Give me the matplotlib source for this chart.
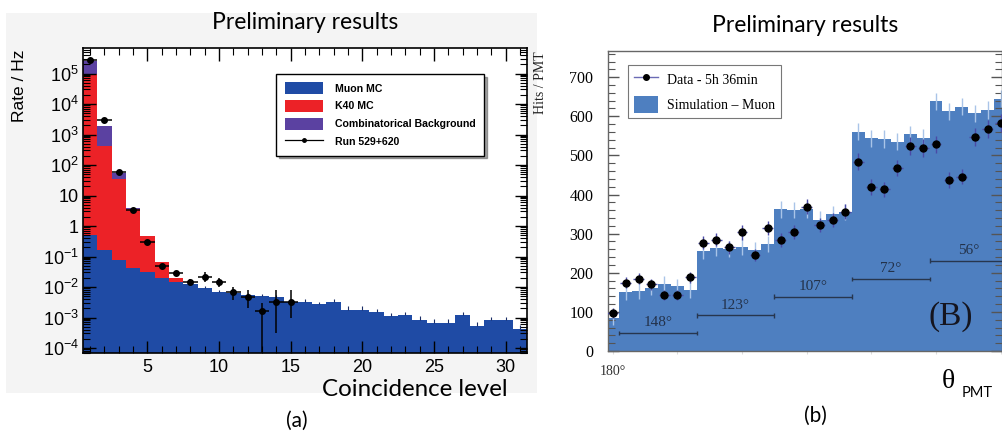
import numpy as np
import matplotlib
matplotlib.use("Agg")
import matplotlib.pyplot as plt
from matplotlib.patches import Patch, Rectangle
from matplotlib.lines import Line2D
from matplotlib.ticker import FixedLocator, FuncFormatter, LogLocator, NullFormatter, MultipleLocator

plt.rcParams['font.family'] = ['Liberation Sans', 'DejaVu Sans']
plt.rcParams['mathtext.fontset'] = 'custom'
plt.rcParams['mathtext.rm'] = 'Liberation Sans'
plt.rcParams['mathtext.it'] = 'Liberation Sans:italic'

# ---------------- Panel (a) data ----------------
coinc_levels = list(range(1, 32))
muon_mc = [0.5, 0.16, 0.078, 0.042, 0.032, 0.020, 0.0145, 0.0126, 0.0093, 0.0070,
           0.0063, 0.0055, 0.0050, 0.0046, 0.0033, 0.0033, 0.0027, 0.0032, 0.0018, 0.0018,
           0.00155, 0.0011, 0.0012, 0.00083, 0.00068, 0.00068, 0.0012, 0.00054, 0.00083, 0.00083,
           0.00041]
muon_mc_err = [0.02, 0.01, 0.005, 0.003, 0.003, 0.002, 0.0015, 0.0015, 0.0012, 0.001,
               0.001, 0.0009, 0.0009, 0.0009, 0.0007, 0.0007, 0.0006, 0.0007, 0.0005, 0.0005,
               0.0004, 0.0003, 0.0003, 0.00025, 0.0002, 0.0002, 0.0003, 0.00018, 0.00022, 0.00022,
               0.00015]
k40_mc = [1.0e5, 420, 35, 3.5, 0.44, 0.046, 0.0055, 0, 0, 0,
          0, 0, 0, 0, 0, 0, 0, 0, 0, 0,
          0, 0, 0, 0, 0, 0, 0, 0, 0, 0, 0]
comb_bkg = [1.6e5, 1480, 20, 0.25, 0, 0, 0, 0, 0, 0,
            0, 0, 0, 0, 0, 0, 0, 0, 0, 0,
            0, 0, 0, 0, 0, 0, 0, 0, 0, 0, 0]
run_levels = list(range(1, 16))
run_rate = [2.7e5, 3000, 59, 3.35, 0.29, 0.050, 0.028, 0.0148, 0.022, 0.0148,
            0.0067, 0.0048, 0.00165, 0.0033, 0.0033]
run_err_up = [2e4, 300, 5, 0.3, 0.02, 0.004, 0.003, 0.003, 0.008, 0.005,
              0.0035, 0.0031, 0.00125, 0.0046, 0.0046]
run_err_dn = [2e4, 300, 5, 0.3, 0.02, 0.004, 0.003, 0.0028, 0.007, 0.0045,
              0.003, 0.0028, 0.00164, 0.003, 0.00237]
legend_a = ['Muon MC', 'K40 MC', 'Combinatorical Background', 'Run 529+620']

# ---------------- Panel (b) data ----------------
pmt_bins = list(range(31))
sim_muon = [84, 150, 154, 162, 171, 165, 156, 256, 263, 261,
            266, 259, 274, 362, 360, 362, 336, 350, 356, 561,
            544, 542, 535, 554, 545, 638, 613, 625, 608, 616, 645]
sim_err = [18, 20, 20, 20, 20, 20, 20, 20, 20, 20,
           20, 20, 20, 21, 21, 21, 21, 21, 21, 22,
           22, 22, 22, 22, 22, 22, 22, 22, 22, 22, 22]
data_hits = [97, 175, 185, 171, 144, 144, 188, 277, 285, 265,
             303, 246, 314, 284, 304, 369, 323, 336, 356, 484,
             420, 413, 468, 524, 519, 528, 438, 446, 547, 568, 584]
data_err = [12, 14, 14, 14, 13, 13, 14, 17, 17, 16,
            18, 16, 18, 17, 18, 19, 18, 18, 19, 21,
            20, 20, 21, 22, 22, 22, 20, 20, 22, 23, 23]
ring_labels = ['148°', '123°', '107°', '72°', '56°']
ring_start = [0.5, 6.5, 12.5, 18.5, 24.5]
ring_end = [6.5, 12.5, 18.5, 24.5, 30.5]
ring_y = [46, 91, 139, 184, 231]
legend_b = ['Data - 5h 36min', 'Simulation – Muon']

# ---------------- figure ----------------
W, H = 1003, 433
fig = plt.figure(figsize=(W / 100, H / 100), dpi=100)


def fx(px):
    return px / W


def fy(py):
    return 1 - py / H


# ROOT canvas background
fig.patches.append(Rectangle((fx(6), fy(393)), (537 - 6) / W, (393 - 13) / H,
                             transform=fig.transFigure, facecolor='#f4f4f4',
                             edgecolor='none', zorder=-5))

c_blue = '#1f4ba5'
c_red = '#ec2227'
c_purple = '#5b41a1'

ax1 = fig.add_axes([fx(83), fy(353), (527 - 83) / W, (353 - 48) / H])
ax1.set_zorder(2)
ax1.set_facecolor('white')
x = np.array(coinc_levels, dtype=float)
muon = np.array(muon_mc)
k40 = np.array(k40_mc, dtype=float)
comb = np.array(comb_bkg, dtype=float)
floor = 1e-6
ax1.bar(x, muon - floor, bottom=floor, width=1.0, color=c_blue, linewidth=0)
ax1.bar(x, k40, bottom=muon, width=1.0, color=c_red, linewidth=0)
ax1.bar(x, comb, bottom=muon + k40, width=1.0, color=c_purple, linewidth=0)
mask = (k40 == 0) & (comb == 0)
err = np.array(muon_mc_err)
ax1.errorbar(x[mask], muon[mask], yerr=[np.zeros(mask.sum()), err[mask]], fmt='none',
             ecolor='#1a2d66', elinewidth=0.8, capsize=0)
ax1.errorbar(run_levels, run_rate, yerr=[run_err_dn, run_err_up], xerr=0.5, fmt='o',
             color='black', ms=4, elinewidth=1.1, capsize=0, zorder=5)
ax1.set_yscale('log')
ax1.set_xlim(0.5, 31.5)
ax1.set_ylim(6.86e-5, 6.86e5)
ax1.xaxis.set_major_locator(FixedLocator([5, 10, 15, 20, 25, 30]))
ax1.xaxis.set_minor_locator(MultipleLocator(1))
ax1.yaxis.set_major_locator(LogLocator(base=10, numticks=20))
ax1.yaxis.set_minor_locator(LogLocator(base=10, subs=np.arange(2, 10), numticks=20))
ax1.yaxis.set_minor_formatter(NullFormatter())


def logfmt(v, pos):
    e = int(round(np.log10(v)))
    if e == 0:
        return '1'
    if e == 1:
        return '10'
    return r'$\mathregular{10^{%d}}$' % e


ax1.yaxis.set_major_formatter(FuncFormatter(logfmt))
ax1.tick_params(which='both', direction='in', top=True, right=True, color='black',
                labelsize=13)
ax1.tick_params(which='major', length=9, width=1)
ax1.tick_params(which='minor', length=5, width=0.8)
ax1.tick_params(axis='x', pad=4)
ax1.tick_params(axis='y', pad=3)
for s in ax1.spines.values():
    s.set_linewidth(1.2)
    s.set_color('black')

handles_a = [Patch(facecolor=c_blue), Patch(facecolor=c_red), Patch(facecolor=c_purple),
             Line2D([], [], color='black', marker='o', ms=2.5, lw=0.9)]
leg1 = ax1.legend(handles_a, legend_a, loc='upper left', bbox_to_anchor=(0.435, 0.915),
                  borderaxespad=0, frameon=True, fancybox=False, shadow=True,
                  edgecolor='black', framealpha=1,
                  prop={'family': 'Liberation Sans', 'weight': 'bold', 'size': 7.6},
                  handlelength=3.6, handleheight=1.35, labelspacing=0.55,
                  handletextpad=1.2, borderpad=0.8)
leg1.get_frame().set_linewidth(1.0)

# ---------------- Panel (b) ----------------
c_sim = '#4e7fc0'
ax2 = fig.add_axes([fx(608), fy(351), (1002 - 608) / W, (351 - 51) / H])
ax2.set_zorder(2)
ax2.bar(pmt_bins, sim_muon, width=1.0, color=c_sim, linewidth=0)
ax2.errorbar(pmt_bins, sim_muon, yerr=sim_err, fmt='none', ecolor='#a9c4e8',
             elinewidth=1.0, capsize=0)
ax2.errorbar(pmt_bins, data_hits, yerr=data_err, xerr=0.42, fmt='o', mfc='black',
             mec='black', ms=5, ecolor='#4a4aa6', elinewidth=1.0, capsize=0, zorder=5)
ax2.hlines(ring_y, ring_start, ring_end, color='#27364e', lw=1.0, zorder=4)
for s0, s1, yy, lab in zip(ring_start, ring_end, ring_y, ring_labels):
    ax2.vlines([s0, s1], yy - 6, yy + 6, color='#27364e', lw=1.0, zorder=4)
    ax2.text((s0 + s1) / 2, yy + 26, lab, ha='center', va='center',
             family='Liberation Serif', size=11, color='#23324a')
ax2.text(26.1, 87, '(B)', ha='center', va='center', family='Liberation Serif',
         size=24, color='#15151f')
ax2.set_xlim(-0.36, 30.1)
ax2.set_ylim(0, 767)
ax2.set_xticks([0, 5, 10, 15, 20, 25, 30])
ax2.set_xticklabels(['180°', '', '', '', '', '', ''])
ax2.yaxis.set_major_locator(MultipleLocator(100))
ax2.yaxis.set_minor_locator(MultipleLocator(20))
ax2.tick_params(axis='y', which='both', direction='in', left=True, right=True,
                color='#555555', labelsize=11.5, pad=10.5, labelfontfamily='Liberation Serif')
ax2.tick_params(axis='y', which='major', length=8, width=1)
ax2.tick_params(axis='y', which='minor', length=5, width=0.8)
ax2.tick_params(axis='x', which='major', direction='out', length=2, color='#dddddd',
                labelsize=10, pad=8, labelfontfamily='Liberation Serif', labelcolor='#333333')
for s in ax2.spines.values():
    s.set_linewidth(1.0)
    s.set_color('#666666')

handles_b = [Line2D([], [], color='#6b6bb5', marker='o', mfc='black', mec='black', ms=4, lw=1),
             Patch(facecolor=c_sim)]
leg2 = ax2.legend(handles_b, legend_b, loc='upper left', bbox_to_anchor=(0.051, 0.953),
                  borderaxespad=0, frameon=True, fancybox=False, shadow=False,
                  edgecolor='#777777', framealpha=1,
                  prop={'family': 'Liberation Serif', 'size': 10},
                  handlelength=1.75, handleheight=1.45, labelspacing=0.65,
                  handletextpad=0.65, borderpad=0.4)
leg2.get_frame().set_linewidth(0.8)

# ---------------- text ----------------
fig.text(fx(305), fy(29), 'Preliminary results', family='Lato', size=16.5,
         ha='center', va='baseline')
fig.text(fx(805), fy(32), 'Preliminary results', family='Lato', size=16.5,
         ha='center', va='baseline')
fig.text(fx(20), fy(86), 'Rate / Hz', rotation=90, family='Liberation Sans', size=12.5,
         ha='center', va='center')
fig.text(fx(415), fy(396), 'Coincidence level', family='Lato', size=17.4,
         ha='center', va='baseline')
fig.text(fx(297), fy(421), '(a)', family='Lato', size=15, ha='center', va='center')
fig.text(fx(815), fy(416), '(b)', family='Lato', size=15, ha='center', va='center')
fig.text(fx(541), fy(83), 'Hits / PMT', rotation=90, family='Liberation Serif', size=10,
         ha='center', va='center', color='#222222')
fig.text(fx(948), fy(382), 'θ', family='Liberation Serif', size=20, ha='center', va='center')
fig.text(fx(977), fy(393), 'PMT', family='Lato', size=10.5, ha='center', va='center')

fig.savefig('out.png', dpi=100)
